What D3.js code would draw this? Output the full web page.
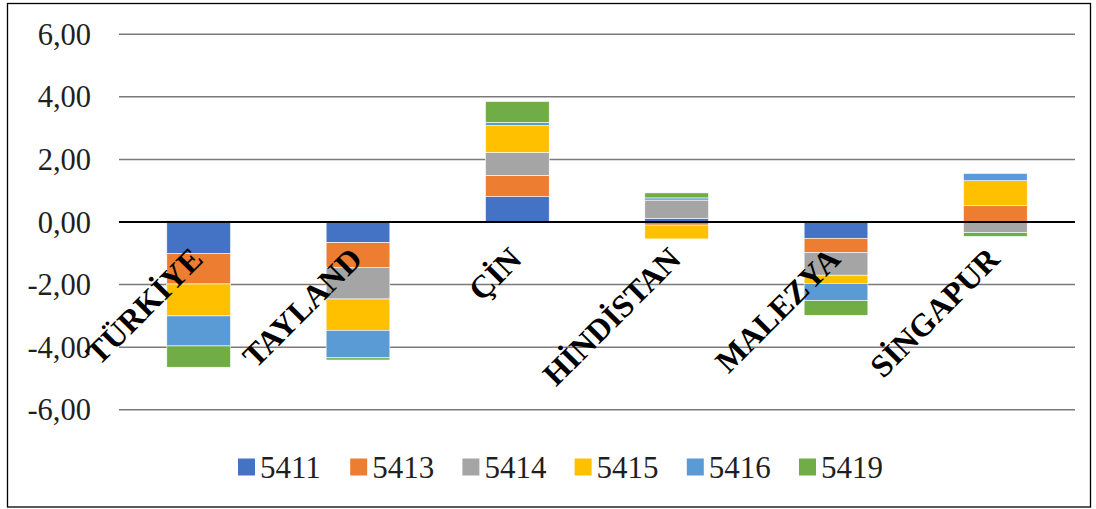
<!DOCTYPE html>
<html>
<head>
<meta charset="utf-8">
<script src="https://cdn.jsdelivr.net/npm/d3@7"></script>
<style>
  html, body { margin: 0; padding: 0; background: #fff; }
  svg { display: block; }
</style>
</head>
<body>
<svg id="chart" width="1096" height="509"></svg>
<script>
// ---- data ----
const categories = ["TÜRKİYE", "TAYLAND", "ÇİN", "HİNDİSTAN", "MALEZYA", "SİNGAPUR"];
const seriesNames = ["5411", "5413", "5414", "5415", "5416", "5419"];
const s5411 = [-1.00, -0.66, 0.81, 0.12, -0.52, 0.00];
const s5413 = [-0.98, -0.79, 0.68, -0.10, -0.45, 0.52];
const s5414 = [0.04, -1.01, 0.73, 0.58, -0.73, -0.34];
const s5415 = [-1.02, -1.00, 0.86, -0.44, -0.26, 0.80];
const s5416 = [-0.96, -0.88, 0.10, 0.07, -0.55, 0.23];
const s5419 = [-0.68, -0.07, 0.67, 0.16, -0.47, -0.12];
const yTicks = [6, 4, 2, 0, -2, -4, -6];
const colors = ["#4472C4", "#ED7D31", "#A5A5A5", "#FFC000", "#5B9BD5", "#70AD47"];

const seriesValues = [s5411, s5413, s5414, s5415, s5416, s5419];
const table = categories.map((c, i) => {
  const row = { cat: c };
  seriesNames.forEach((s, k) => row[s] = seriesValues[k][i]);
  return row;
});

// ---- layout ----
const svg = d3.select("#chart");
const plotLeft = 119, plotRight = 1075;
const serif = "'Times New Roman', 'Liberation Serif', serif";
const locale = d3.formatLocale({ decimal: ",", thousands: ".", grouping: [3], currency: ["", ""], minus: "-" });
const fmt = locale.format(".2f");

svg.append("rect")
  .attr("x", 7.5).attr("y", 3.5).attr("width", 1083).attr("height", 503.5)
  .attr("fill", "#fff").attr("stroke", "#000").attr("stroke-width", 1.3);

const y = d3.scaleLinear().domain([-6, 6]).range([409.8, 34.2]);
const x = d3.scaleBand().domain(categories).range([plotLeft, plotRight])
  .paddingInner(0.6).paddingOuter(0.3);

// gridlines
svg.append("g").selectAll("line").data(yTicks.filter(t => t !== 0)).join("line")
  .attr("x1", plotLeft).attr("x2", plotRight)
  .attr("y1", d => y(d)).attr("y2", d => y(d))
  .attr("stroke", "#7a7a7a").attr("stroke-width", 1.5);

// y tick labels
svg.append("g").selectAll("text").data(yTicks).join("text")
  .attr("x", 91).attr("y", d => y(d))
  .attr("dy", "0.35em")
  .attr("text-anchor", "end")
  .attr("font-family", serif)
  .attr("font-size", 30.5)
  .attr("fill", "#1f1f1f")
  .text(d => fmt(d));

// stacked bars
const stack = d3.stack().keys(seriesNames).offset(d3.stackOffsetDiverging);
const stacked = stack(table);
svg.append("g").selectAll("g").data(stacked).join("g")
  .attr("fill", (d, i) => colors[i])
  .selectAll("rect").data(d => d).join("rect")
  .attr("x", d => x(d.data.cat))
  .attr("width", x.bandwidth())
  .attr("y", d => y(Math.max(d[0], d[1])))
  .attr("height", d => Math.abs(y(d[0]) - y(d[1])))
  .attr("stroke", "#fff").attr("stroke-width", 0.6);

// zero line
svg.append("line")
  .attr("x1", plotLeft).attr("x2", plotRight)
  .attr("y1", y(0)).attr("y2", y(0))
  .attr("stroke", "#000").attr("stroke-width", 1.8);

// category labels (rotated)
svg.append("g").selectAll("text").data(categories).join("text")
  .attr("transform", d => `translate(${x(d) + x.bandwidth() / 2 + 6},${y(0) + 39}) rotate(-45)`)
  .attr("text-anchor", "end")
  .attr("font-family", serif)
  .attr("font-weight", "bold")
  .attr("font-size", 32)
  .attr("fill", "#000")
  .text(d => d);

// legend
const legendX0 = 238, legendStep = 112.2, legendY = 467;
const lg = svg.append("g").selectAll("g").data(seriesNames).join("g")
  .attr("transform", (d, i) => `translate(${legendX0 + i * legendStep},${legendY})`);
lg.append("rect").attr("x", 0).attr("y", -8.5).attr("width", 17).attr("height", 17)
  .attr("fill", (d, i) => colors[i]);
lg.append("text").attr("x", 22).attr("y", 0).attr("dy", "0.35em")
  .attr("font-family", serif)
  .attr("font-size", 31)
  .attr("fill", "#1f1f1f")
  .text(d => d);
</script>
</body>
</html>
